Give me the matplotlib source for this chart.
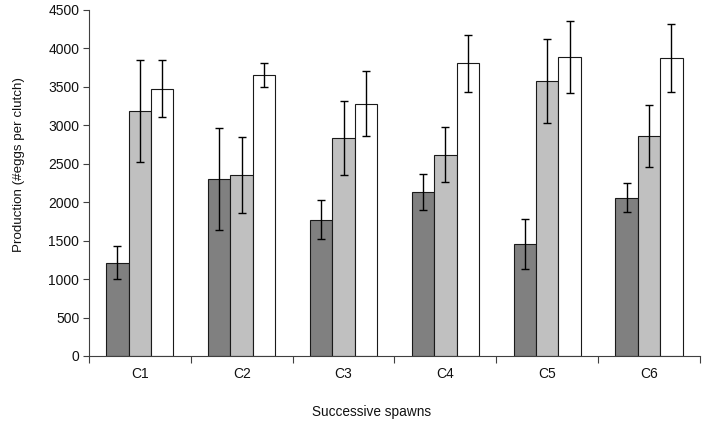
import numpy as np
import matplotlib.pyplot as plt

plt.rcParams['font.family'] = ['Liberation Sans', 'DejaVu Sans']

# ---- data
spawns = ['C1', 'C2', 'C3', 'C4', 'C5', 'C6']
dark_vals = [1215, 2303, 1770, 2134, 1458, 2060]
dark_err = [220, 667, 253, 232, 327, 190]
gray_vals = [3187, 2355, 2840, 2619, 3577, 2862]
gray_err = [665, 490, 480, 357, 546, 398]
white_vals = [3477, 3659, 3282, 3806, 3884, 3876]
white_err = [375, 155, 420, 368, 468, 445]

x = np.arange(len(spawns))
w = 0.22

fig = plt.figure(figsize=(7.06, 4.25), dpi=100)
ax = fig.add_axes([0.126, 0.1624, 0.8654, 0.8141])

ekw = dict(ecolor='black', elinewidth=1.0, capsize=2.6, capthick=1.0)
ax.bar(x - w, dark_vals, w, yerr=dark_err, color='#808080', edgecolor='#1a1a1a',
       linewidth=0.8, error_kw=ekw)
ax.bar(x, gray_vals, w, yerr=gray_err, color='#c0c0c0', edgecolor='#1a1a1a',
       linewidth=0.8, error_kw=ekw)
ax.bar(x + w, white_vals, w, yerr=white_err, color='white', edgecolor='#1a1a1a',
       linewidth=0.8, error_kw=ekw)

ax.set_xlim(-0.5, len(spawns) - 0.5)
ax.set_ylim(0, 4500)
ax.set_yticks(np.arange(0, 4501, 500))

# category labels centered, tick marks between categories
ax.set_xticks(x)
ax.set_xticklabels(spawns)
ax.set_xticks(np.arange(-0.5, len(spawns)), minor=True)
ax.tick_params(axis='x', which='major', length=0, pad=8)
ax.tick_params(axis='x', which='minor', length=5, width=0.8, color='#404040')
ax.tick_params(axis='y', length=4, width=0.8, color='#404040', pad=3)
ax.tick_params(labelsize=10, labelcolor='#111111')

for side in ['top', 'right']:
    ax.spines[side].set_visible(False)
for side in ['left', 'bottom']:
    ax.spines[side].set_color('#404040')
    ax.spines[side].set_linewidth(0.8)

# axis titles placed where they sit in the reference
fig.text(19 / 706, 1 - 164 / 425, 'Production (#eggs per clutch)', rotation=90,
         ha='center', va='center', fontsize=9.6, color='#111111')
fig.text(371.5 / 706, 1 - 412 / 425, 'Successive spawns',
         ha='center', va='center', fontsize=9.8, color='#111111')

fig.savefig('out.png', dpi=100)
